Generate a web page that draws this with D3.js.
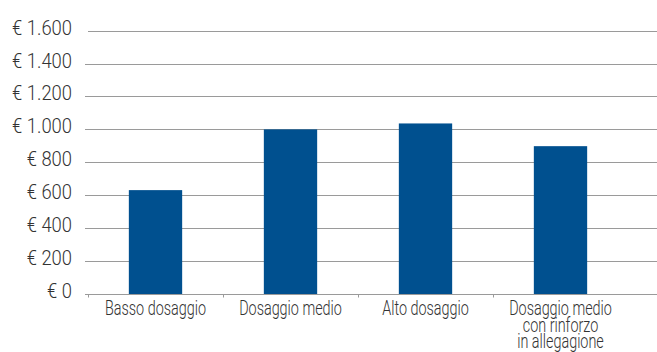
<!DOCTYPE html>
<html>
<head>
<meta charset="utf-8">
<script src="https://cdn.jsdelivr.net/npm/d3@7"></script>
<style>
  body { margin: 0; background: #fff; }
  svg text { font-family: Roboto, "Liberation Sans", sans-serif; font-weight: 300; fill: #333; }
</style>
</head>
<body>
<div id="chart"></div>
<script>
const WIDTH = 657;
const HEIGHT = 352;

const categories = [
  ["Basso dosaggio"],
  ["Dosaggio medio"],
  ["Alto dosaggio"],
  ["Dosaggio medio", "con rinforzo", "in allegagione"]
];
const values = [631, 1000, 1036, 898];
const yTicks = [0, 200, 400, 600, 800, 1000, 1200, 1400, 1600];

const margin = {top: 30, left: 88, bottom: 58};
const SX_Y = 0.92; // condensed look, tick labels
const SX_X = 0.72; // condensed look, category labels

const svg = d3.select("#chart")
  .append("svg")
  .attr("width", WIDTH)
  .attr("height", HEIGHT);

const x = d3.scaleBand()
  .domain(d3.range(categories.length))
  .range([margin.left, 628])
  .padding(0);

const y = d3.scaleLinear()
  .domain([0, 1600])
  .range([HEIGHT - margin.bottom, margin.top + 0.6]);

const fmt = d => "€ " + d3.format(",")(d).replace(/,/g, ".");

// gridlines
svg.append("g")
  .selectAll("line")
  .data(yTicks.filter(d => d > 0))
  .enter().append("line")
  .attr("x1", d => d == 1600 ? 88 : 85)
  .attr("x2", WIDTH)
  .attr("y1", d => Math.round(y(d)) + 0.5)
  .attr("y2", d => Math.round(y(d)) + 0.5)
  .attr("stroke", "#9a9a9a")
  .attr("stroke-width", 1);

// y labels
svg.append("g")
  .selectAll("text")
  .data(yTicks)
  .enter().append("text")
  .attr("transform", d => `translate(72, ${y(d) + 4}) scale(${SX_Y}, 1)`)
  .attr("text-anchor", "end")
  .style("font-size", "20px")
  .text(fmt);

// bars
const bw = x.bandwidth() * 0.395;
svg.append("g")
  .selectAll("rect")
  .data(values)
  .enter().append("rect")
  .attr("x", (d, i) => x(i) + x.bandwidth() / 2 - bw / 2)
  .attr("y", d => y(d))
  .attr("width", bw)
  .attr("height", d => y(0) - y(d))
  .attr("fill", "#00508f");

// x axis
const xAxis = svg.append("g")
  .attr("transform", `translate(0, ${Math.round(y(0)) + 0.5})`);

xAxis.append("line")
  .attr("x1", 85)
  .attr("x2", WIDTH)
  .attr("stroke", "#9a9a9a");

xAxis.selectAll("line.tick")
  .data(d3.range(categories.length))
  .enter().append("line")
  .attr("class", "tick")
  .attr("x1", d => Math.round(x(d)) + 0.5)
  .attr("x2", d => Math.round(x(d)) + 0.5)
  .attr("y1", 0)
  .attr("y2", 3)
  .attr("stroke", "#9a9a9a");

const labels = xAxis.selectAll("text.cat")
  .data(categories)
  .enter().append("text")
  .attr("class", "cat")
  .attr("text-anchor", "middle")
  .style("font-size", "20px")
  .attr("transform", (d, i) => `translate(${x(i) + x.bandwidth() / 2}, 20) scale(${SX_X}, 1)`);

labels.selectAll("tspan")
  .data(d => d)
  .enter().append("tspan")
  .attr("x", 0)
  .attr("dy", (d, j) => j == 0 ? 0 : 17)
  .text(d => d);
</script>
</body>
</html>
